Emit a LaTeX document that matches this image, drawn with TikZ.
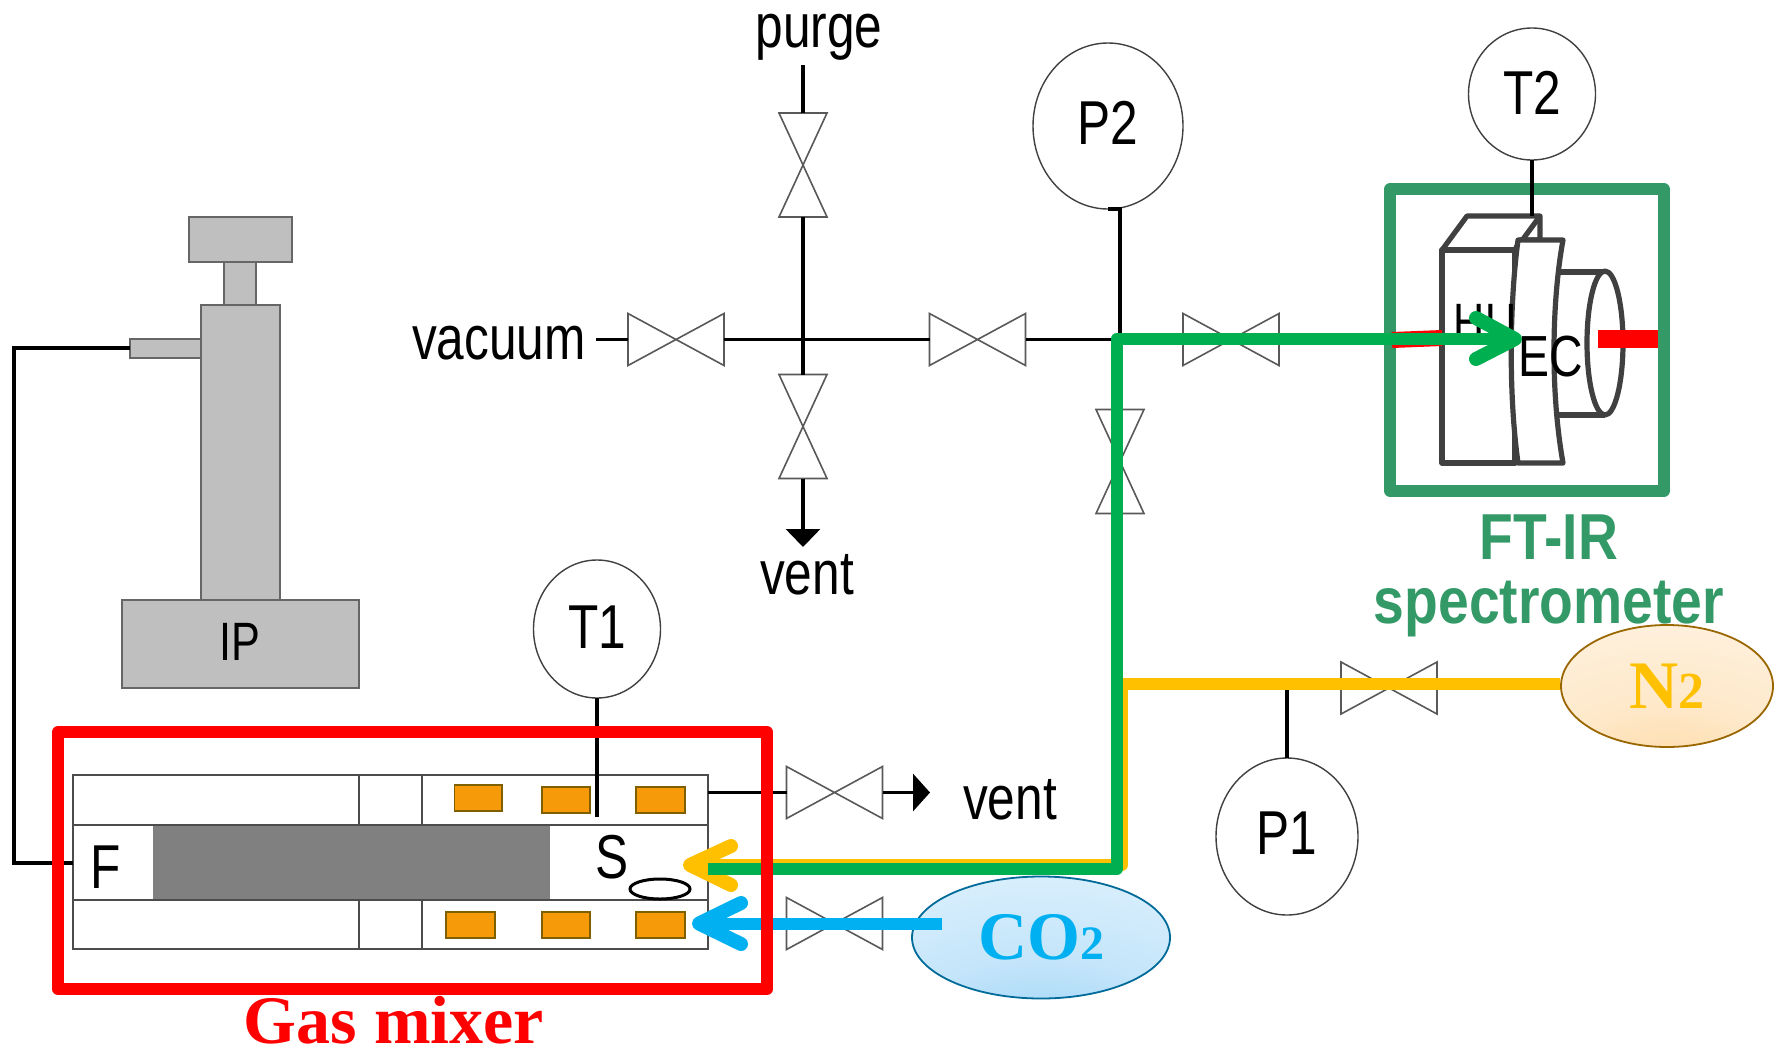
\documentclass[tikz,border=0pt]{standalone}
\usepackage{fontspec}
\setmainfont[FakeStretch=0.8]{Liberation Sans}
\newfontfamily\ftirfont[FakeStretch=0.85]{Liberation Sans}
\newfontfamily\gasfont{Liberation Serif}
\usetikzlibrary{shapes.geometric,arrows.meta}
\definecolor{ftgreen}{HTML}{339966}
\definecolor{pipegreen}{HTML}{00B050}
\definecolor{pipeyellow}{HTML}{FFC000}
\definecolor{pipeblue}{HTML}{00B0F0}
\definecolor{heaterfill}{HTML}{F79A0A}
\definecolor{heaterline}{HTML}{7F6000}
\definecolor{devgrey}{HTML}{404040}
\definecolor{nd}{HTML}{FDD69A}
\definecolor{nm}{HTML}{FEE8C8}
\definecolor{nl}{HTML}{FFF4E6}
\definecolor{cd}{HTML}{98D2F6}
\definecolor{cm}{HTML}{C4E5FA}
\definecolor{cl}{HTML}{E2F3FE}
\pgfdeclareradialshading{nshade}{\pgfpoint{0bp}{-45bp}}{color(0bp)=(nd);color(25bp)=(nm);color(60bp)=(nl);color(100bp)=(nl)}
\pgfdeclareradialshading{cshade}{\pgfpoint{0bp}{-45bp}}{color(0bp)=(cd);color(25bp)=(cm);color(60bp)=(cl);color(100bp)=(cl)}
\newcommand\hvalve[2]{%
  \node[valvebox,minimum width=48pt,minimum height=26pt] (#1) at (#2) {};
  \draw[valveline] (#1.north west) -- (#1.south east) -- (#1.north east) -- (#1.south west) -- cycle;}
\newcommand\vvalve[2]{%
  \node[valvebox,minimum width=24pt,minimum height=52pt] (#1) at (#2) {};
  \draw[valveline] (#1.north west) -- (#1.south east) -- (#1.south west) -- (#1.north east) -- cycle;}
\tikzset{
  x=0.5pt,y=-0.5pt,
  valvebox/.style={inner sep=0,outer sep=0,rectangle},
  valveline/.style={draw=black!65,line width=0.8pt,line join=miter},
  pipe/.style={draw=black,line width=1.7pt},
  gauge/.style={ellipse,draw=black!75,line width=0.7pt,inner sep=0,outer sep=0,fill=white,font=\fontsize{31pt}{31pt}\selectfont},
  lbl/.style={inner sep=0,anchor=base,font=\fontsize{31pt}{31pt}\selectfont},
  pumpbox/.style={draw=black!60,fill=black!25,line width=0.7pt},
  heater/.style={draw=heaterline,fill=heaterfill,line width=0.7pt},
  tube/.style={draw=black!70,line width=0.9pt},
  device/.style={draw=devgrey,line width=2.6pt,line join=round},
  fat/.style={line width=6pt,line join=round},
  barb/.style={line width=7pt,line join=round,line cap=round},
  gasfontstyle/.style={font=\gasfont\bfseries\fontsize{34pt}{34pt}\selectfont},
}
\begin{document}
\begin{tikzpicture}
\useasboundingbox[fill=white] (0,0) rectangle (1783,1050);

% pump
\draw[pumpbox] (122,600) rectangle (359,688);
\draw[pumpbox] (201,305) rectangle (280,600);
\draw[pumpbox] (224,262) rectangle (256,305);
\draw[pumpbox] (189,217) rectangle (292,262);
\draw[pumpbox] (130,339) rectangle (201,358);
\node[lbl,font=\fontsize{27pt}{27pt}\selectfont] (ip) at (240,660) {IP};

% gas-mixer tube
\fill[black!50] (152.5,825) rectangle (550,900);
\draw[tube] (73,775) rectangle (708,949);
\draw[tube] (73,825) -- (708,825) (73,900) -- (708,900);
\draw[tube] (359,775) -- (359,825) (422,775) -- (422,825);
\draw[tube] (359,900) -- (359,949) (422,900) -- (422,949);
\draw[heater] (454.5,785) rectangle (502,811);
\draw[heater] (542,787) rectangle (590,813);
\draw[heater] (636,787) rectangle (685,813);
\draw[heater] (446,912) rectangle (495,938);
\draw[heater] (542,912) rectangle (590,938);
\draw[heater] (636,912) rectangle (685,938);
\node[lbl] (flab) at (106,888) {F};
\node[lbl] (slab) at (612,878) {S};
\draw[draw=black,line width=1.5pt] (660,889) ellipse (30 and 10);

% free ends and junctions
\coordinate (vacend) at (596,339.5);
\coordinate (purgeend) at (803,65);
\coordinate (ventend) at (803,547);
\coordinate (jcross) at (803,339.5);
\coordinate (jright) at (1120,339.5);
\coordinate (p2bend) at (1120,209);
\coordinate (jlow) at (1120,684);
\coordinate (jp1) at (1287,684);
\coordinate (ventmixout) at (930,792.5);
\coordinate (tubeout) at (708,792.5);
\coordinate (pumpport) at (130,348);
\coordinate (pumpa) at (14,348);
\coordinate (pumpb) at (14,863);
\coordinate (fend) at (73,863);
\coordinate (t1end) at (597,817);

% valves
\vvalve{vpurge}{803,165}
\vvalve{vvent}{803,426.5}
\hvalve{vvac}{676,339.5}
\hvalve{vmid}{977.5,339.5}
\hvalve{vright}{1231,339.5}
\vvalve{vgreen}{1120,461.5}
\hvalve{vnitro}{1389,688}
\hvalve{vmixvent}{834.5,792.5}
\hvalve{vcarbon}{834.5,923.5}

% gauges
\node[gauge,minimum width=75pt,minimum height=83pt,text depth=3pt] (P2) at (1108,126) {P2};
\node[gauge,minimum width=63.5pt,minimum height=66pt,text depth=1pt] (T2) at (1532,94) {T2};
\node[gauge,minimum width=63.5pt,minimum height=69pt,text depth=2pt] (T1) at (597,629) {T1};
\node[gauge,minimum width=71pt,minimum height=78.5pt,text depth=3pt] (P1) at (1287,836.5) {P1};

% black pipes
\draw[pipe] (vacend) -- (vvac.west);
\draw[pipe] (vvac.east) -- (jcross) -- (vmid.west);
\draw[pipe] (vmid.east) -- (jright) -- (vright.west);
\draw[pipe] (purgeend) -- (vpurge.north);
\draw[pipe] (vpurge.south) -- (jcross) -- (vvent.north);
\draw[pipe,-{Triangle[length=9pt,width=17pt]}] (vvent.south) -- (ventend);
\draw[pipe] (P2.south) -- (p2bend) -- (jright);
\draw[pipe] (jright) -- (vgreen.north) (vgreen.south) -- (jlow);
\draw[pipe] (jp1) -- (P1.north);
\draw[pipe] (T1.south) -- (t1end);
\draw[pipe] (tubeout) -- (vmixvent.west);
\draw[pipe,-{Triangle[length=8.5pt,width=18.5pt]}] (vmixvent.east) -- (ventmixout);
\draw[pipe] (pumpport) -- (pumpa) -- (pumpb) -- (fend);

% text
\node[lbl] (purge) at (819,47) {purge};
\node[lbl] (vacuum) at (499,359) {vacuum};
\node[lbl] (vent1) at (807,594) {vent};
\node[lbl] (vent2) at (1010,819) {vent};

% FT-IR cell
\draw[draw=ftgreen,line width=5.6pt,line join=round] (1390,189) rectangle (1664,491);
\draw[device,fill=white] (1556,272) -- (1605,272) (1556,415) -- (1605,415);
\draw[device,fill=white] (1605,343) ellipse (18 and 72);
\draw[device,fill=white] (1442,463) -- (1442,250) -- (1467,216) -- (1540,216) -- (1540,240) -- (1520,240) -- (1515,250) -- (1442,250);
\draw[device] (1515,250) -- (1540,216);
\draw[device,fill=white] (1442,250) -- (1515,250) -- (1515,463) -- (1442,463) -- cycle;
\draw[device,fill=white] (1518,240) -- (1563,240) .. controls (1552,300) and (1550,390) .. (1563,463) -- (1518,463) .. controls (1508,390) and (1510,300) .. (1518,240) -- cycle;
\draw[draw=red,line width=8pt] (1392,340) -- (1442,338);
\draw[draw=red,line width=9pt] (1598,339) -- (1658,339);
\coordinate (t2end) at (1532,216);
\draw[pipe] (T2.south) -- (t2end);
\node[lbl,font=\fontsize{27pt}{27pt}\selectfont] (hu) at (1485,341) {HU};
\node[lbl,font=\fontsize{29pt}{29pt}\selectfont] (ec) at (1551,376) {EC};
\node[lbl,text=ftgreen,font=\ftirfont\bfseries\fontsize{32.5pt}{32.5pt}\selectfont] (ftir) at (1549,559) {FT-IR};
\node[lbl,text=ftgreen,font=\ftirfont\bfseries\fontsize{32.5pt}{32.5pt}\selectfont] (spec) at (1549,623) {spectrometer};

% gas sources
\node[ellipse,draw=heaterline!80!orange,line width=0.9pt,shading=nshade,minimum width=106pt,minimum height=61pt,inner sep=0,outer sep=0,text=pipeyellow,gasfontstyle] (N2) at (1667,686) {N{\fontsize{26pt}{26pt}\selectfont 2}};
\node[ellipse,draw=blue!30!cyan!60!black,line width=0.9pt,shading=cshade,minimum width=129pt,minimum height=61pt,inner sep=0,outer sep=0,text=pipeblue,gasfontstyle] (CO2) at (1041,937.5) {CO{\fontsize{24pt}{24pt}\selectfont 2}};

% coloured flows
\coordinate (nend) at (1560,684);
\coordinate (ya) at (1122,684);
\coordinate (yb) at (1122,865);
\coordinate (yc) at (700,865);
\coordinate (ytip) at (690,865);
\coordinate (yu) at (731,846);
\coordinate (yd) at (731,885);
\draw[draw=pipeyellow,line width=6pt,line join=round] (nend) -- (ya) -- (yb) -- (yc);
\draw[draw=pipeyellow,barb] (yu) -- (ytip) -- (yd);
\coordinate (gs) at (708,869);
\coordinate (gb) at (1116.5,869);
\coordinate (gc) at (1116.5,339);
\coordinate (gtip) at (1515,339);
\coordinate (gu) at (1476,318);
\coordinate (gd) at (1476,359);
\draw[draw=pipegreen,fat] (gs) -- (gb) -- (gc) -- (gtip);
\draw[draw=pipegreen,barb] (gu) -- (gtip) -- (gd);
\coordinate (bstart) at (942,923.5);
\coordinate (btip) at (699,923.5);
\coordinate (bu) at (741,903);
\coordinate (bd) at (741,944);
\draw[draw=pipeblue,fat] (bstart) -- (btip);
\draw[draw=pipeblue,barb] (bu) -- (btip) -- (bd);

% gas mixer frame
\draw[draw=red,line width=6pt,line join=round] (58,732) rectangle (767,989);
\node[lbl,text=red,gasfontstyle] (gas) at (394,1043) {Gas mixer};
\end{tikzpicture}
\end{document}
